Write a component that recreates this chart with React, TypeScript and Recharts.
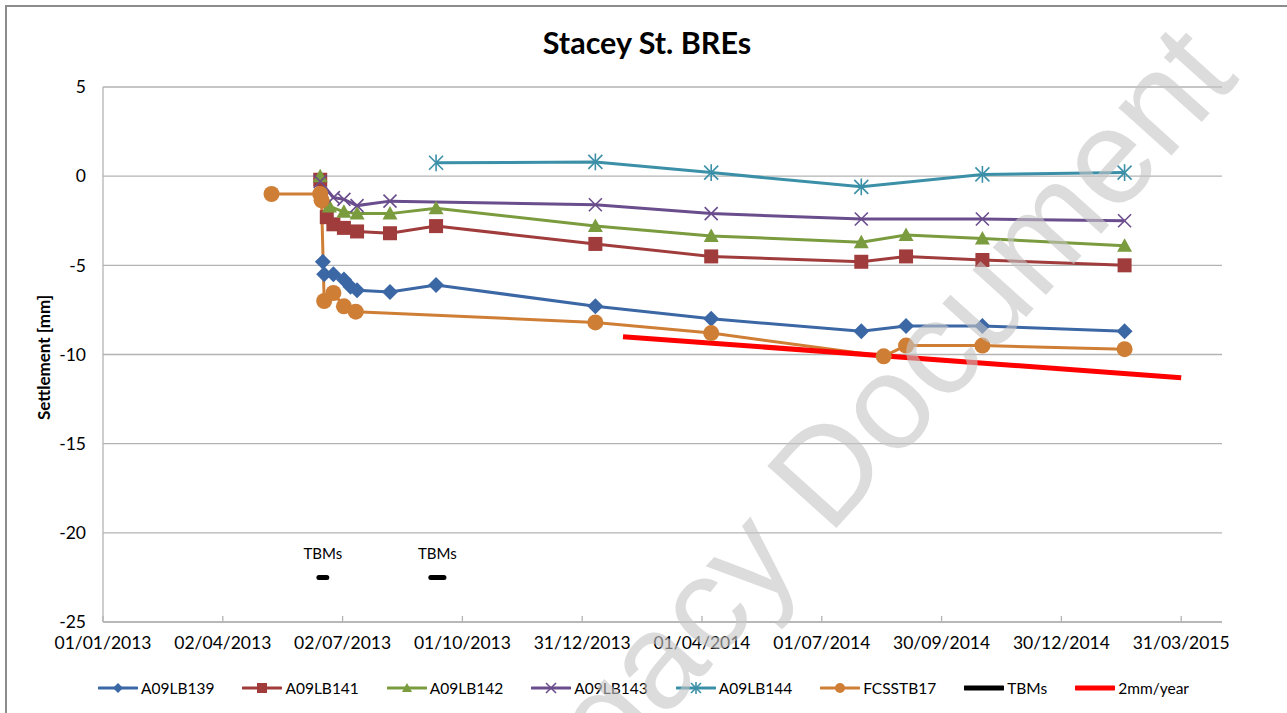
import React from 'react';
import { LineChart, Line, XAxis, YAxis, CartesianGrid, Legend, LabelList } from 'recharts';

const FONT = 'Lato, "Liberation Sans", sans-serif';

// axis
const xTickDates = [
  '2013-01-01', '2013-04-02', '2013-07-02', '2013-10-01', '2013-12-31',
  '2014-04-01', '2014-07-01', '2014-09-30', '2014-12-30', '2015-03-31',
];
const xStart = '2013-01-01';
const xEnd = '2015-05-01';
const yTicks = [-25, -20, -15, -10, -5, 0, 5];

// series values [date, settlement mm]
const a09lb139: [string, number][] = [
  ['2013-06-17', -4.8], ['2013-06-18', -5.5], ['2013-06-25', -5.5], ['2013-07-03', -5.8],
  ['2013-07-08', -6.2], ['2013-07-13', -6.4], ['2013-08-07', -6.5], ['2013-09-11', -6.1],
  ['2014-01-10', -7.3], ['2014-04-08', -8.0], ['2014-07-31', -8.7], ['2014-09-03', -8.4],
  ['2014-10-31', -8.4], ['2015-02-16', -8.7],
];
const a09lb141: [string, number][] = [
  ['2013-06-15', -0.2], ['2013-06-20', -2.3], ['2013-06-25', -2.7], ['2013-07-03', -2.9],
  ['2013-07-13', -3.1], ['2013-08-07', -3.2], ['2013-09-11', -2.8], ['2014-01-10', -3.8],
  ['2014-04-08', -4.5], ['2014-07-31', -4.8], ['2014-09-03', -4.5], ['2014-10-31', -4.7],
  ['2015-02-16', -5.0],
];
const a09lb142: [string, number][] = [
  ['2013-06-15', 0.0], ['2013-06-22', -1.7], ['2013-07-03', -2.0], ['2013-07-13', -2.1],
  ['2013-08-07', -2.1], ['2013-09-11', -1.8], ['2014-01-10', -2.8], ['2014-04-08', -3.35],
  ['2014-07-31', -3.7], ['2014-09-03', -3.3], ['2014-10-31', -3.5], ['2015-02-16', -3.9],
];
const a09lb143: [string, number][] = [
  ['2013-06-15', -0.3], ['2013-06-25', -1.2], ['2013-07-03', -1.3], ['2013-07-13', -1.65],
  ['2013-08-07', -1.4], ['2014-01-10', -1.6], ['2014-04-08', -2.1], ['2014-07-31', -2.4],
  ['2014-10-31', -2.4], ['2015-02-16', -2.5],
];
const a09lb144: [string, number][] = [
  ['2013-09-11', 0.75], ['2014-01-10', 0.8], ['2014-04-08', 0.2], ['2014-07-31', -0.6],
  ['2014-10-31', 0.1], ['2015-02-16', 0.2],
];
const fcsstb17: [string, number][] = [
  ['2013-05-09', -1.0], ['2013-06-15', -1.0], ['2013-06-16', -1.35], ['2013-06-18', -7.0],
  ['2013-06-25', -6.55], ['2013-07-03', -7.3], ['2013-07-12', -7.6], ['2014-01-10', -8.2],
  ['2014-04-08', -8.8], ['2014-08-17', -10.1], ['2014-09-03', -9.5], ['2014-10-31', -9.5],
  ['2015-02-16', -9.7],
];
const rate2mm: [string, number][] = [['2014-01-31', -9.0], ['2015-03-31', -11.3]];

// TBM arrival marks: start, label point, end
const tbmSegments: [string, string, string][] = [
  ['2013-06-14', '2013-06-17', '2013-06-20'],
  ['2013-09-07', '2013-09-12', '2013-09-17'],
];
const tbmLevel = -22.5;
const tbmLabel = 'TBMs';

const DAY = 86400000;
const base = Date.parse(xStart + 'T00:00:00Z');
const toDay = (s: string) => (Date.parse(s + 'T00:00:00Z') - base) / DAY;
const fmtDay = (d: number) => {
  const dt = new Date(base + d * DAY);
  const p = (n: number) => String(n).padStart(2, '0');
  return `${p(dt.getUTCDate())}/${p(dt.getUTCMonth() + 1)}/${dt.getUTCFullYear()}`;
};
const toPts = (arr: [string, number][]) => arr.map(([d, v]) => ({ x: toDay(d), y: v }));

const tbmData: { x: number; y: number | null; label?: string }[] = [];
tbmSegments.forEach(([a, m, b]) => {
  tbmData.push({ x: toDay(a), y: tbmLevel });
  tbmData.push({ x: toDay(m), y: tbmLevel, label: tbmLabel });
  tbmData.push({ x: toDay(b), y: tbmLevel });
  tbmData.push({ x: toDay(b), y: null });
});

type Shape = 'diamond' | 'square' | 'triangle' | 'x' | 'star' | 'circle' | 'none';

const series: { name: string; data: [string, number][]; color: string; shape: Shape; width: number }[] = [
  { name: 'A09LB139', data: a09lb139, color: '#3B67A5', shape: 'diamond', width: 3 },
  { name: 'A09LB141', data: a09lb141, color: '#A03C3C', shape: 'square', width: 3 },
  { name: 'A09LB142', data: a09lb142, color: '#7A9B3E', shape: 'triangle', width: 3 },
  { name: 'A09LB143', data: a09lb143, color: '#6A4D8C', shape: 'x', width: 3 },
  { name: 'A09LB144', data: a09lb144, color: '#3B90A8', shape: 'star', width: 3 },
  { name: 'FCSSTB17', data: fcsstb17, color: '#CF7E35', shape: 'circle', width: 3 },
];

function Marker({ cx, cy, shape, color, size }: { cx: number; cy: number; shape: Shape; color: string; size: number }) {
  const r = size / 2;
  switch (shape) {
    case 'diamond':
      return <polygon points={`${cx},${cy - r} ${cx + r},${cy} ${cx},${cy + r} ${cx - r},${cy}`} fill={color} />;
    case 'square':
      return <rect x={cx - r} y={cy - r} width={size} height={size} fill={color} />;
    case 'triangle':
      return <polygon points={`${cx},${cy - r} ${cx + r},${cy + r * 0.8} ${cx - r},${cy + r * 0.8}`} fill={color} />;
    case 'x':
      return (
        <g stroke={color} strokeWidth={1.6}>
          <line x1={cx - r} y1={cy - r} x2={cx + r} y2={cy + r} />
          <line x1={cx - r} y1={cy + r} x2={cx + r} y2={cy - r} />
        </g>
      );
    case 'star':
      return (
        <g stroke={color} strokeWidth={1.6}>
          <line x1={cx - r} y1={cy - r} x2={cx + r} y2={cy + r} />
          <line x1={cx - r} y1={cy + r} x2={cx + r} y2={cy - r} />
          <line x1={cx} y1={cy - r * 1.2} x2={cx} y2={cy + r * 1.2} />
        </g>
      );
    case 'circle':
      return <circle cx={cx} cy={cy} r={r} fill={color} />;
    default:
      return null;
  }
}

const markerSize: Record<Shape, number> = { diamond: 16, square: 14, triangle: 15, x: 13, star: 14, circle: 16, none: 0 };

const legendItems = [
  ...series.map((s) => ({ name: s.name, color: s.color, shape: s.shape, width: 3 })),
  { name: 'TBMs', color: '#000000', shape: 'none' as Shape, width: 5 },
  { name: '2mm/year', color: '#FF0000', shape: 'none' as Shape, width: 5 },
];

function LegendBox() {
  return (
    <div style={{ height: 61, paddingTop: 26, boxSizing: 'border-box', display: 'flex', justifyContent: 'center', gap: 28, fontFamily: FONT, fontSize: 15.5, color: '#000' }}>
      {legendItems.map((it) => (
        <div key={it.name} style={{ display: 'flex', alignItems: 'center', height: 20 }}>
          <svg width={40} height={14} style={{ marginRight: 3 }}>
            <line x1={1} y1={7} x2={39} y2={7} stroke={it.color} strokeWidth={it.width} strokeLinecap="round" />
            <Marker cx={20} cy={7} shape={it.shape} color={it.color} size={it.shape === 'none' ? 0 : 10} />
          </svg>
          <span>{it.name}</span>
        </div>
      ))}
    </div>
  );
}

export default function App() {
  return (
    <div style={{ position: 'absolute', left: 0, top: 0, width: 1287, height: 713, background: '#fff', overflow: 'hidden' }}>
      <div style={{ position: 'absolute', left: 5, top: 5, width: 1300, height: 730, border: '2px solid #8c8c8c' }} />
      <div style={{ position: 'absolute', left: 0, top: 25, width: 1294, textAlign: 'center', fontFamily: FONT, fontWeight: 700, fontSize: 30.5, lineHeight: '34px', color: '#000' }}>
        Stacey St. BREs
      </div>
      <div style={{ position: 'absolute', left: 0, top: 0 }}>
        <LineChart width={1287} height={713} margin={{ top: 87, right: 65, bottom: 0, left: 0 }}>
          <CartesianGrid vertical={false} stroke="#b3b3b3" strokeWidth={1.3} />
          <XAxis
            type="number"
            dataKey="x"
            domain={[toDay(xStart), toDay(xEnd)]}
            ticks={xTickDates.map(toDay)}
            tickFormatter={fmtDay}
            allowDataOverflow
            height={30}
            stroke="#b3b3b3"
            strokeWidth={1.3}
            tickSize={-6}
            tickMargin={21}
            tick={{ fill: '#000', fontSize: 17.5, fontFamily: FONT }}
          />
          <YAxis
            type="number"
            domain={[-25, 5]}
            ticks={yTicks}
            width={103}
            stroke="#b3b3b3"
            strokeWidth={1.3}
            tickLine={false}
            tickSize={0}
            tickMargin={17}
            tick={{ fill: '#000', fontSize: 17.5, fontFamily: FONT }}
            label={{
              content: (p: any) => {
                const vb = p.viewBox || { x: 0, y: 87, width: 103, height: 535 };
                const cx = vb.x + 43;
                const cy = vb.y + vb.height / 2 + 3;
                return (
                  <text
                    x={cx}
                    y={cy}
                    transform={`rotate(-90 ${cx} ${cy})`}
                    textAnchor="middle"
                    dominantBaseline="central"
                    style={{ fontFamily: FONT, fontWeight: 700, fontSize: 17, fill: '#000' }}
                  >
                    Settlement [mm]
                  </text>
                );
              },
            }}
          />
          <Legend verticalAlign="bottom" height={61} wrapperStyle={{ left: 0, width: 1287 }} content={() => <LegendBox />} />
          {series.map((s) => (
            <Line
              key={s.name}
              name={s.name}
              data={toPts(s.data)}
              dataKey="y"
              type="linear"
              stroke={s.color}
              strokeWidth={s.width}
              isAnimationActive={false}
              dot={(p: any) => (
                <Marker key={`${s.name}-${p.index}`} cx={p.cx} cy={p.cy} shape={s.shape} color={s.color} size={markerSize[s.shape]} />
              )}
              activeDot={false}
            />
          ))}
          <Line
            name="TBMs"
            data={tbmData}
            dataKey="y"
            type="linear"
            stroke="#000"
            strokeWidth={5}
            strokeLinecap="round"
            dot={false}
            activeDot={false}
            connectNulls={false}
            isAnimationActive={false}
          >
            <LabelList dataKey="label" position="top" offset={18} fill="#000" fontSize={15} fontFamily={FONT} />
          </Line>
          <Line
            name="2mm/year"
            data={toPts(rate2mm)}
            dataKey="y"
            type="linear"
            stroke="#FF0000"
            strokeWidth={5}
            dot={false}
            activeDot={false}
            isAnimationActive={false}
          />
        </LineChart>
      </div>
      <svg width={1287} height={713} style={{ position: 'absolute', left: 0, top: 0, pointerEvents: 'none' }}>
        <g transform="translate(829,536) rotate(-48)">
          <text x={-473} y={0} fontFamily='"Liberation Sans", Arial, sans-serif' fontSize={135} fill="#c4c4c4" fillOpacity={0.6}>
            Legacy Document
          </text>
        </g>
      </svg>
    </div>
  );
}
